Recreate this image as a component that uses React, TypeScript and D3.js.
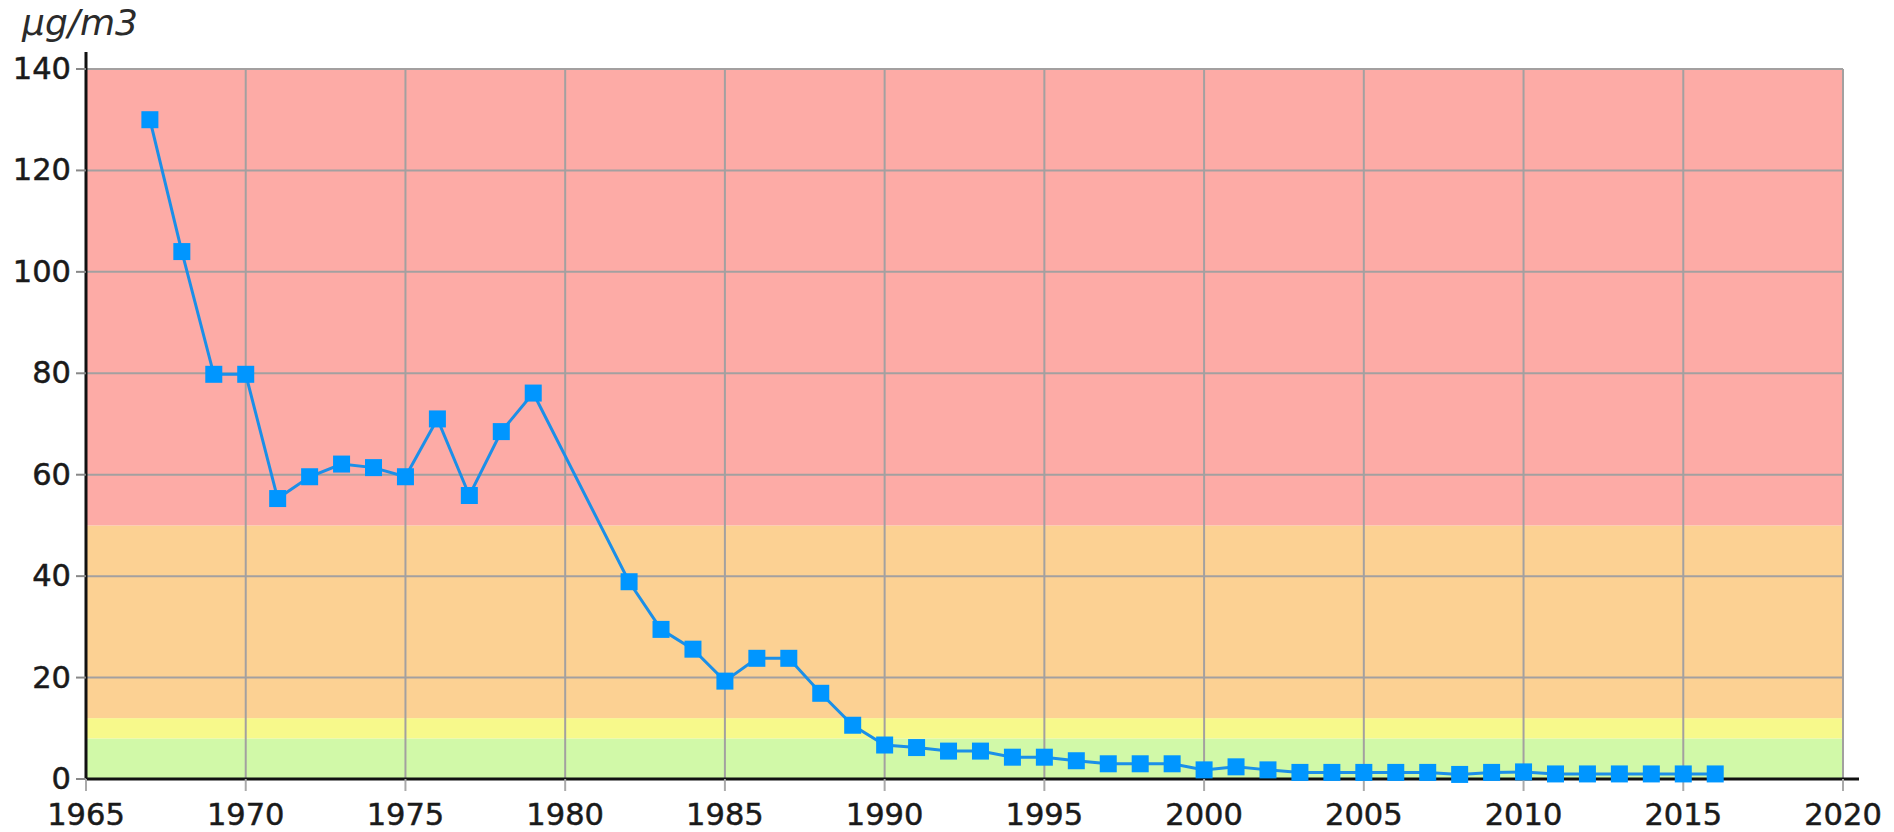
import * as d3 from "d3";
import React, { useEffect, useRef } from "react";

// yearly mean values, µg/m3 (no data for 1980 and 1981)
const years = [
  1967, 1968, 1969, 1970, 1971, 1972, 1973, 1974, 1975, 1976, 1977, 1978, 1979,
  1982, 1983, 1984, 1985, 1986, 1987, 1988, 1989, 1990, 1991, 1992, 1993, 1994,
  1995, 1996, 1997, 1998, 1999, 2000, 2001, 2002, 2003, 2004, 2005, 2006, 2007,
  2008, 2009, 2010, 2011, 2012, 2013, 2014, 2015, 2016,
];
const values = [
  130, 104, 79.8, 79.8, 55.3, 59.6, 62.1, 61.4, 59.6, 71, 55.9, 68.5, 76.1,
  38.9, 29.5, 25.6, 19.3, 23.8, 23.8, 16.9, 10.6, 6.7, 6.2, 5.5, 5.5, 4.3,
  4.3, 3.6, 3.0, 3.0, 3.0, 1.8, 2.4, 1.8, 1.3, 1.3, 1.3, 1.3, 1.3,
  0.9, 1.3, 1.4, 1.0, 1.0, 1.0, 1.0, 1.0, 1.0,
];

// background bands: [from, to, colour]
const bandFrom = [0, 8, 12, 50];
const bandTo = [8, 12, 50, 140];
const bandColors = ["#d1f9a8", "#f7f98b", "#fcd193", "#fdaba6"];

const xTicks = [1965, 1970, 1975, 1980, 1985, 1990, 1995, 2000, 2005, 2010, 2015, 2020];
const yTicks = [0, 20, 40, 60, 80, 100, 120, 140];
const unitLabel = "µg/m3";

const svgWidth = 1894;
const svgHeight = 832;

const App = () => {
  const ref = useRef(null);

  useEffect(() => {
    const root = d3.select(ref.current);
    root.selectAll("*").remove();

    let margin = { top: 69, bottom: 53, left: 86, right: 51 };
    let width = svgWidth - margin.left - margin.right;
    let height = svgHeight - margin.top - margin.bottom;
    const font = "'DejaVu Sans', Verdana, sans-serif";
    const tickFont = "30.5px";

    let svg = root
      .append("g")
      .attr("transform", "translate(" + margin.left + "," + margin.top + ")");

    let x = d3.scaleLinear().domain([1965, 2020]).range([0, width]);
    let y = d3.scaleLinear().domain([0, 140]).range([height, 0]);

    // coloured bands
    svg
      .selectAll(".band")
      .data(bandFrom)
      .enter()
      .append("rect")
      .attr("x", 0)
      .attr("width", width)
      .attr("y", (d, i) => y(bandTo[i]))
      .attr("height", (d, i) => y(d) - y(bandTo[i]))
      .attr("fill", (d, i) => bandColors[i]);

    // grid
    svg
      .selectAll(".hgrid")
      .data(yTicks.filter((t) => t > 0))
      .enter()
      .append("line")
      .attr("x1", 0)
      .attr("x2", width)
      .attr("y1", (d) => y(d))
      .attr("y2", (d) => y(d))
      .style("stroke", "#a3a0a0")
      .style("stroke-width", 2);

    svg
      .selectAll(".vgrid")
      .data(xTicks.filter((t) => t > 1965))
      .enter()
      .append("line")
      .attr("x1", (d) => x(d))
      .attr("x2", (d) => x(d))
      .attr("y1", 0)
      .attr("y2", height)
      .style("stroke", "#a3a0a0")
      .style("stroke-width", 2);

    // y axis
    svg
      .append("line")
      .attr("x1", 0)
      .attr("x2", 0)
      .attr("y1", -17)
      .attr("y2", height)
      .style("stroke", "#111")
      .style("stroke-width", 3);

    svg
      .selectAll(".ytick")
      .data(yTicks)
      .enter()
      .append("line")
      .attr("x1", -10)
      .attr("x2", 0)
      .attr("y1", (d) => y(d))
      .attr("y2", (d) => y(d))
      .style("stroke", "#888")
      .style("stroke-width", 2);

    svg
      .selectAll(".ylabel")
      .data(yTicks)
      .enter()
      .append("text")
      .attr("x", -15)
      .attr("y", (d) => y(d))
      .attr("dy", "0.33em")
      .attr("text-anchor", "end")
      .style("font-family", font)
      .style("font-size", tickFont)
      .style("fill", "#1a1a1a")
      .style("stroke", "#1a1a1a")
      .style("stroke-width", 0.5)
      .text((d) => d);

    // x axis
    svg
      .append("line")
      .attr("x1", 0)
      .attr("x2", width + 16)
      .attr("y1", height)
      .attr("y2", height)
      .style("stroke", "#111")
      .style("stroke-width", 3);

    svg
      .selectAll(".xtick")
      .data(xTicks)
      .enter()
      .append("line")
      .attr("x1", (d) => x(d))
      .attr("x2", (d) => x(d))
      .attr("y1", height)
      .attr("y2", height + 12)
      .style("stroke", "#aaa")
      .style("stroke-width", 2);

    svg
      .selectAll(".xlabel")
      .data(xTicks)
      .enter()
      .append("text")
      .attr("x", (d) => x(d))
      .attr("y", height + 45.7)
      .attr("text-anchor", "middle")
      .style("font-family", font)
      .style("font-size", tickFont)
      .style("fill", "#1a1a1a")
      .style("stroke", "#1a1a1a")
      .style("stroke-width", 0.5)
      .text((d) => d);

    // unit label
    root
      .append("text")
      .attr("x", 22)
      .attr("y", 35)
      .style("font-family", font)
      .style("font-style", "italic")
      .style("font-size", "36px")
      .style("fill", "#2b2b2b")
      .text(unitLabel);

    // series
    const points = years.map((yr, i) => [yr, values[i]]);
    const line = d3
      .line()
      .x((d) => x(d[0]))
      .y((d) => y(d[1]));

    svg
      .append("path")
      .datum(points)
      .attr("d", line)
      .attr("fill", "none")
      .style("stroke", "#1b8fe8")
      .style("stroke-width", 3);

    svg
      .selectAll(".marker")
      .data(points)
      .enter()
      .append("rect")
      .attr("x", (d) => x(d[0]) - 8.5)
      .attr("y", (d) => y(d[1]) - 8.5)
      .attr("width", 17)
      .attr("height", 17)
      .attr("fill", "#0096ff");
  }, []);

  return (
    <svg
      ref={ref}
      width={svgWidth}
      height={svgHeight}
      style={{ position: "absolute", left: 0, top: 0, background: "#fff" }}
    />
  );
};

export default App;
